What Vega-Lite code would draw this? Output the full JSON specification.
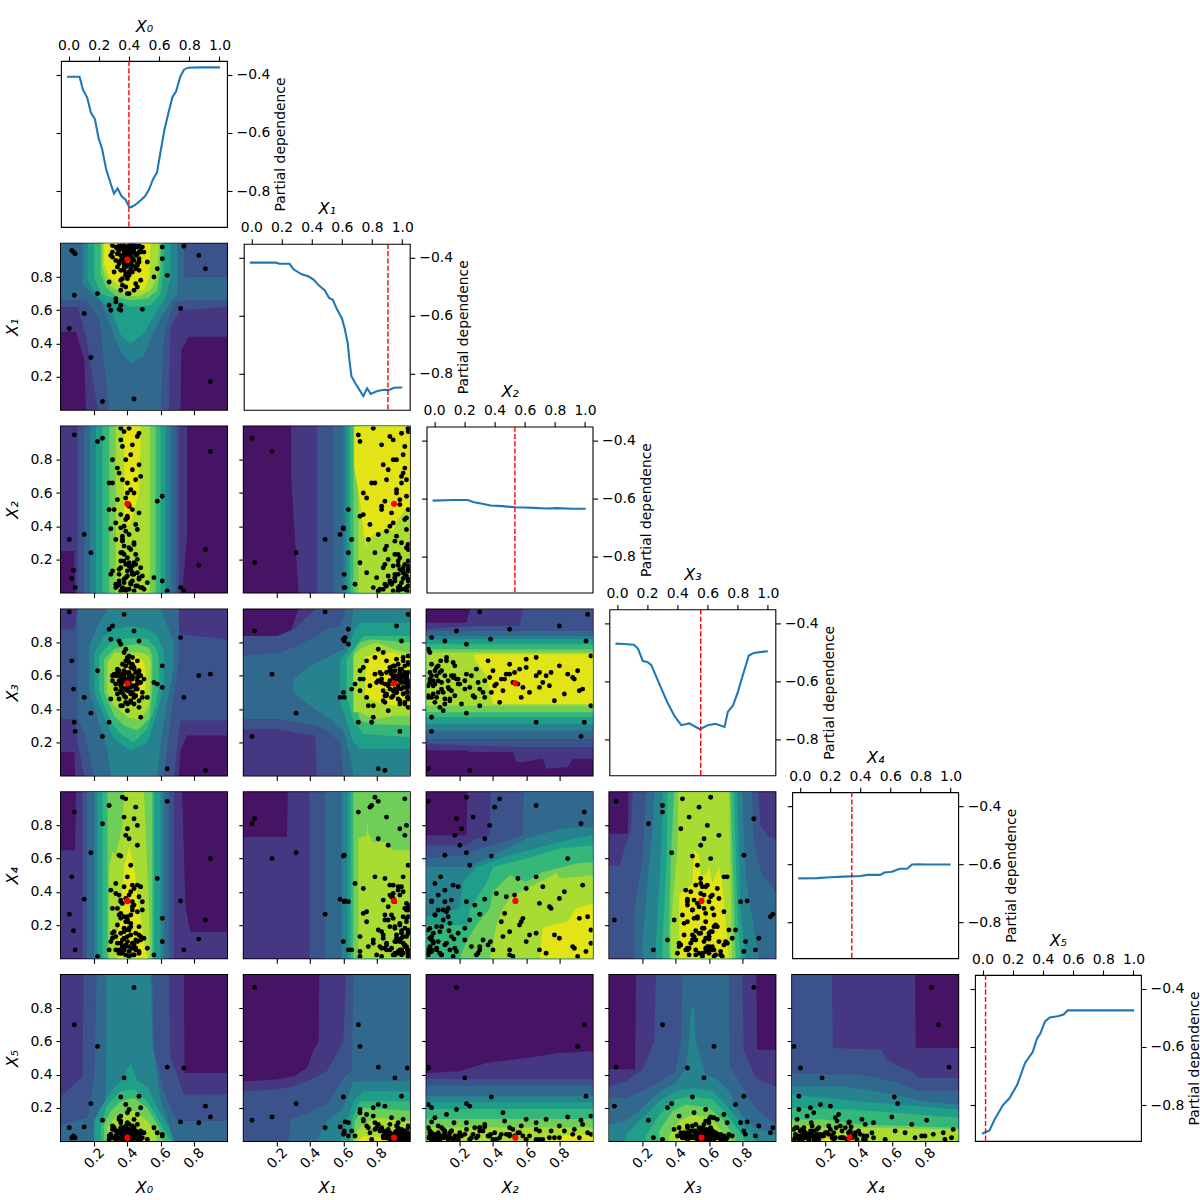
{"$schema":"https://vega.github.io/schema/vega-lite/v6.json","background":"white","padding":{"left":3,"top":17,"right":0,"bottom":0},"columns":6,"spacing":16.8,"bounds":"flush",
"config":{"view":{"stroke":"black","strokeWidth":2,"continuousWidth":166,"continuousHeight":166},"font":"DejaVu Sans","legend":{"disable":true},
"axis":{"grid":false,"domain":false,"tickColor":"black","tickSize":5,"tickWidth":1.1,"labelColor":"black","labelFont":"DejaVu Sans","labelFontSize":13.9,"labelPadding":4,"labelFlush":false,"titleColor":"black","titleFont":"DejaVu Sans","titleFontSize":16,"titleFontWeight":"normal","titleFontStyle":"italic"},
"axisLeft":{"titlePadding":9},"axisBottom":{"titlePadding":9},"axisRight":{"titleFontSize":13.9},
"area":{"orient":"vertical","opacity":1},"line":{"color":"#1f77b4","strokeWidth":2.08},"rule":{"color":"red","strokeWidth":1.4,"strokeDash":[5.1,2.2]},"circle":{"color":"black","size":24,"opacity":1},
"range":{"ordinal":["#471365","#453781","#3b528b","#31688e","#26828e","#1f9e89","#35b779","#6ece58","#a9dc33","#e2e418"]}},
"datasets":{
"best":[{"x0":0.4,"x1":0.905,"x2":0.535,"x3":0.555,"x4":0.345,"x5":0.02}],
"pts":[
{"x0":0.44,"x1":0.065,"x2":0.18,"x3":0.87,"x4":0.84,"x5":0.925},{"x0":0.08,"x1":0.69,"x2":0.95,"x3":0.32,"x4":0.88,"x5":0.7},{"x0":0.22,"x1":0.7,"x2":0.91,"x3":0.63,"x4":0.01,"x5":0.57},{"x0":0.64,"x1":0.81,"x2":0.01,"x3":0.04,"x4":0.945,"x5":0.445},{"x0":0.74,"x1":0.985,"x2":0.01,"x3":0.47,"x4":0.05,"x5":0.44},{"x0":0.38,"x1":0.91,"x2":0.23,"x3":0.57,"x4":0.18,"x5":0.38},{"x0":0.47,"x1":0.95,"x2":0.96,"x3":0.81,"x4":0.04,"x5":0.27},{"x0":0.36,"x1":0.6,"x2":0.39,"x3":0.5,"x4":0.615,"x5":0.265},{"x0":0.18,"x1":0.315,"x2":0.24,"x3":0.375,"x4":0.635,"x5":0.225},{"x0":0.87,"x1":0.85,"x2":0.26,"x3":0.03,"x4":0.23,"x5":0.21},{"x0":0.9,"x1":0.17,"x2":0.85,"x3":0.61,"x4":0.6,"x5":0.145},{"x0":0.25,"x1":0.05,"x2":0.93,"x3":0.235,"x4":0.81,"x5":0.125},{"x0":0.05,"x1":0.49,"x2":0.32,"x3":0.985,"x4":0.265,"x5":0.08},{"x0":0.14,"x1":0.58,"x2":0.35,"x3":0.47,"x4":0.355,"x5":0.085},{"x0":0.065,"x1":0.96,"x2":0.085,"x3":0.69,"x4":0.49,"x5":0.02},{"x0":0.075,"x1":0.95,"x2":0.135,"x3":0.52,"x4":0.165,"x5":0.03},{"x0":0.085,"x1":0.94,"x2":0.03,"x3":0.265,"x4":0.05,"x5":0.02},{"x0":0.72,"x1":0.61,"x2":0.03,"x3":0.83,"x4":0.345,"x5":0.115},{"x0":0.83,"x1":0.93,"x2":0.165,"x3":0.6,"x4":0.115,"x5":0.11},
{"x0":0.58,"x1":0.85,"x2":0.55,"x3":0.55,"x4":0.48,"x5":0.05},{"x0":0.61,"x1":0.98,"x2":0.58,"x3":0.53,"x4":0.24,"x5":0.03},{"x0":0.61,"x1":0.91,"x2":0.07,"x3":0.66,"x4":0.1,"x5":0.04},{"x0":0.56,"x1":0.8,"x2":0.09,"x3":0.56,"x4":0.02,"x5":0.08},
{"x0":0.29,"x1":0.63,"x2":0.5,"x3":0.88,"x4":0.05,"x5":0.03},{"x0":0.3,"x1":0.6,"x2":0.385,"x3":0.82,"x4":0.1,"x5":0.04},{"x0":0.36,"x1":0.63,"x2":0.24,"x3":0.79,"x4":0.34,"x5":0.11},{"x0":0.35,"x1":0.605,"x2":0.11,"x3":0.81,"x4":0.62,"x5":0.06},{"x0":0.49,"x1":0.605,"x2":0.03,"x3":0.47,"x4":0.34,"x5":0.05},{"x0":0.33,"x1":0.65,"x2":0.32,"x3":0.52,"x4":0.05,"x5":0.06},{"x0":0.33,"x1":0.67,"x2":0.05,"x3":0.55,"x4":0.45,"x5":0.03},{"x0":0.29,"x1":0.77,"x2":0.66,"x3":0.32,"x4":0.92,"x5":0.01},{"x0":0.31,"x1":0.92,"x2":0.8,"x3":0.9,"x4":0.12,"x5":0.09},{"x0":0.34,"x1":0.97,"x2":0.75,"x3":0.62,"x4":0.3,"x5":0.06},
{"x0":0.36,"x1":0.78,"x2":0.99,"x3":0.42,"x4":0.09,"x5":0.15},{"x0":0.38,"x1":0.99,"x2":0.97,"x3":0.97,"x4":0.25,"x5":0.05},{"x0":0.41,"x1":0.99,"x2":0.99,"x3":0.72,"x4":0.17,"x5":0.04},{"x0":0.46,"x1":0.88,"x2":0.94,"x3":0.52,"x4":0.44,"x5":0.1},{"x0":0.43,"x1":0.83,"x2":0.89,"x3":0.58,"x4":0.06,"x5":0.07},{"x0":0.39,"x1":0.9,"x2":0.8,"x3":0.66,"x4":0.36,"x5":0.02},{"x0":0.47,"x1":0.84,"x2":0.77,"x3":0.45,"x4":0.14,"x5":0.02},{"x0":0.35,"x1":0.96,"x2":0.72,"x3":0.6,"x4":0.03,"x5":0.13},{"x0":0.37,"x1":0.98,"x2":0.68,"x3":0.53,"x4":0.33,"x5":0.01},{"x0":0.4,"x1":0.79,"x2":0.66,"x3":0.71,"x4":0.49,"x5":0.11},
{"x0":0.42,"x1":0.92,"x2":0.62,"x3":0.5,"x4":0.14,"x5":0.03},{"x0":0.45,"x1":0.86,"x2":0.68,"x3":0.62,"x4":0.05,"x5":0.06},{"x0":0.48,"x1":0.95,"x2":0.7,"x3":0.56,"x4":0.43,"x5":0.01},{"x0":0.39,"x1":0.74,"x2":0.57,"x3":0.47,"x4":0.22,"x5":0.09},{"x0":0.43,"x1":0.99,"x2":0.5,"x3":0.67,"x4":0.02,"x5":0.04},{"x0":0.32,"x1":0.83,"x2":0.5,"x3":0.61,"x4":0.16,"x5":0.08},{"x0":0.36,"x1":0.72,"x2":0.47,"x3":0.58,"x4":0.27,"x5":0.12},{"x0":0.39,"x1":0.97,"x2":0.44,"x3":0.44,"x4":0.96,"x5":0.02},{"x0":0.45,"x1":0.76,"x2":0.41,"x3":0.54,"x4":0.91,"x5":0.05},{"x0":0.38,"x1":0.88,"x2":0.4,"x3":0.63,"x4":0.05,"x5":0.01},
{"x0":0.46,"x1":0.98,"x2":0.38,"x3":0.59,"x4":0.8,"x5":0.03},{"x0":0.37,"x1":0.92,"x2":0.34,"x3":0.5,"x4":0.11,"x5":0.06},{"x0":0.41,"x1":0.81,"x2":0.35,"x3":0.57,"x4":0.72,"x5":0.1},{"x0":0.44,"x1":0.95,"x2":0.3,"x3":0.64,"x4":0.02,"x5":0.02},{"x0":0.38,"x1":0.86,"x2":0.28,"x3":0.48,"x4":0.85,"x5":0.04},{"x0":0.42,"x1":0.99,"x2":0.26,"x3":0.53,"x4":0.56,"x5":0.01},{"x0":0.37,"x1":0.79,"x2":0.24,"x3":0.61,"x4":0.97,"x5":0.07},{"x0":0.4,"x1":0.94,"x2":0.21,"x3":0.43,"x4":0.78,"x5":0.03},{"x0":0.46,"x1":0.87,"x2":0.2,"x3":0.55,"x4":0.68,"x5":0.05},{"x0":0.39,"x1":0.97,"x2":0.17,"x3":0.66,"x4":0.74,"x5":0.02},{"x0":0.43,"x1":0.9,"x2":0.16,"x3":0.59,"x4":0.44,"x5":0.01},{"x0":0.36,"x1":0.84,"x2":0.15,"x3":0.51,"x4":0.35,"x5":0.06},
{"x0":0.31,"x1":0.99,"x2":0.13,"x3":0.57,"x4":0.3,"x5":0.02},{"x0":0.3,"x1":0.93,"x2":0.11,"x3":0.46,"x4":0.41,"x5":0.04},{"x0":0.4,"x1":0.96,"x2":0.13,"x3":0.53,"x4":0.25,"x5":0.01},{"x0":0.47,"x1":0.91,"x2":0.09,"x3":0.63,"x4":0.19,"x5":0.03},{"x0":0.49,"x1":0.98,"x2":0.1,"x3":0.5,"x4":0.29,"x5":0.02},{"x0":0.35,"x1":0.88,"x2":0.07,"x3":0.57,"x4":0.38,"x5":0.05},{"x0":0.38,"x1":0.95,"x2":0.06,"x3":0.6,"x4":0.05,"x5":0.01},{"x0":0.42,"x1":0.85,"x2":0.05,"x3":0.44,"x4":0.26,"x5":0.02},{"x0":0.45,"x1":0.99,"x2":0.04,"x3":0.54,"x4":0.15,"x5":0.04},{"x0":0.37,"x1":0.93,"x2":0.03,"x3":0.67,"x4":0.04,"x5":0.01},{"x0":0.41,"x1":0.97,"x2":0.02,"x3":0.56,"x4":0.18,"x5":0.03},{"x0":0.44,"x1":0.9,"x2":0.01,"x3":0.48,"x4":0.02,"x5":0.02},{"x0":0.39,"x1":0.82,"x2":0.02,"x3":0.62,"x4":0.07,"x5":0.06},
{"x0":0.5,"x1":0.95,"x2":0.02,"x3":0.58,"x4":0.12,"x5":0.05},{"x0":0.52,"x1":0.89,"x2":0.06,"x3":0.47,"x4":0.06,"x5":0.01},{"x0":0.47,"x1":0.99,"x2":0.08,"x3":0.41,"x4":0.03,"x5":0.03},{"x0":0.43,"x1":0.96,"x2":0.12,"x3":0.71,"x4":0.09,"x5":0.02},{"x0":0.4,"x1":0.87,"x2":0.1,"x3":0.39,"x4":0.23,"x5":0.07},{"x0":0.36,"x1":0.99,"x2":0.19,"x3":0.55,"x4":0.15,"x5":0.01},{"x0":0.45,"x1":0.93,"x2":0.23,"x3":0.52,"x4":0.11,"x5":0.04},{"x0":0.41,"x1":0.98,"x2":0.27,"x3":0.6,"x4":0.07,"x5":0.02},{"x0":0.37,"x1":0.91,"x2":0.31,"x3":0.56,"x4":0.03,"x5":0.03},{"x0":0.48,"x1":0.96,"x2":0.15,"x3":0.6,"x4":0.13,"x5":0.06},{"x0":0.34,"x1":0.86,"x2":0.04,"x3":0.49,"x4":0.09,"x5":0.02},{"x0":0.38,"x1":0.99,"x2":0.08,"x3":0.62,"x4":0.16,"x5":0.01},{"x0":0.42,"x1":0.94,"x2":0.14,"x3":0.45,"x4":0.21,"x5":0.05},
{"x0":0.33,"x1":0.9,"x2":0.42,"x3":0.55,"x4":0.39,"x5":0.01},{"x0":0.44,"x1":0.72,"x2":0.6,"x3":0.65,"x4":0.42,"x5":0.13},{"x0":0.4,"x1":0.7,"x2":0.46,"x3":0.51,"x4":0.13,"x5":0.17},{"x0":0.37,"x1":0.75,"x2":0.32,"x3":0.42,"x4":0.07,"x5":0.08},{"x0":0.46,"x1":0.74,"x2":0.12,"x3":0.69,"x4":0.28,"x5":0.16},{"x0":0.41,"x1":0.7,"x2":0.18,"x3":0.58,"x4":0.04,"x5":0.19},{"x0":0.48,"x1":0.78,"x2":0.03,"x3":0.35,"x4":0.11,"x5":0.2},{"x0":0.39,"x1":0.81,"x2":0.01,"x3":0.76,"x4":0.17,"x5":0.22},{"x0":0.35,"x1":0.89,"x2":0.05,"x3":0.63,"x4":0.26,"x5":0.14},{"x0":0.43,"x1":0.99,"x2":0.07,"x3":0.5,"x4":0.29,"x5":0.09},{"x0":0.31,"x1":0.95,"x2":0.66,"x3":0.6,"x4":0.15,"x5":0.07},{"x0":0.41,"x1":0.94,"x2":0.53,"x3":0.62,"x4":0.38,"x5":0.03},{"x0":0.4,"x1":0.98,"x2":0.45,"x3":0.58,"x4":0.22,"x5":0.04},
{"x0":0.36,"x1":0.93,"x2":0.01,"x3":0.54,"x4":0.03,"x5":0.08},{"x0":0.45,"x1":0.85,"x2":0.17,"x3":0.48,"x4":0.06,"x5":0.03},{"x0":0.39,"x1":0.91,"x2":0.09,"x3":0.52,"x4":0.02,"x5":0.02},{"x0":0.33,"x1":0.98,"x2":0.03,"x3":0.6,"x4":0.13,"x5":0.01},{"x0":0.42,"x1":0.88,"x2":0.06,"x3":0.65,"x4":0.19,"x5":0.04},{"x0":0.46,"x1":0.94,"x2":0.04,"x3":0.57,"x4":0.1,"x5":0.01},{"x0":0.44,"x1":0.97,"x2":0.11,"x3":0.43,"x4":0.08,"x5":0.05},{"x0":0.35,"x1":0.99,"x2":0.14,"x3":0.46,"x4":0.05,"x5":0.02},{"x0":0.38,"x1":0.84,"x2":0.02,"x3":0.74,"x4":0.12,"x5":0.03},{"x0":0.41,"x1":0.99,"x2":0.16,"x3":0.68,"x4":0.01,"x5":0.01},
{"x0":0.34,"x1":0.94,"x2":0.56,"x3":0.64,"x4":0.2,"x5":0.05},{"x0":0.43,"x1":0.87,"x2":0.74,"x3":0.54,"x4":0.31,"x5":0.02},{"x0":0.37,"x1":0.97,"x2":0.88,"x3":0.59,"x4":0.07,"x5":0.04},{"x0":0.42,"x1":0.96,"x2":0.83,"x3":0.49,"x4":0.4,"x5":0.06},{"x0":0.4,"x1":0.92,"x2":0.6,"x3":0.7,"x4":0.1,"x5":0.01},{"x0":0.44,"x1":0.99,"x2":0.29,"x3":0.47,"x4":0.32,"x5":0.08},{"x0":0.36,"x1":0.9,"x2":0.92,"x3":0.51,"x4":0.24,"x5":0.02},{"x0":0.39,"x1":0.86,"x2":0.37,"x3":0.69,"x4":0.08,"x5":0.03},{"x0":0.47,"x1":0.89,"x2":0.48,"x3":0.61,"x4":0.37,"x5":0.04},{"x0":0.41,"x1":0.83,"x2":0.52,"x3":0.56,"x4":0.01,"x5":0.07},{"x0":0.38,"x1":0.93,"x2":0.19,"x3":0.58,"x4":0.43,"x5":0.03},{"x0":0.43,"x1":0.91,"x2":0.11,"x3":0.6,"x4":0.34,"x5":0.05}],
"d0":[{"x":-0.01,"y":-0.406},{"x":0.073,"y":-0.406},{"x":0.095,"y":-0.45},{"x":0.124,"y":-0.479},{"x":0.148,"y":-0.53},{"x":0.175,"y":-0.553},{"x":0.199,"y":-0.618},{"x":0.223,"y":-0.656},{"x":0.25,"y":-0.727},{"x":0.279,"y":-0.774},{"x":0.301,"y":-0.809},{"x":0.325,"y":-0.791},{"x":0.352,"y":-0.818},{"x":0.378,"y":-0.83},{"x":0.4,"y":-0.853},{"x":0.414,"y":-0.856},{"x":0.442,"y":-0.848},{"x":0.476,"y":-0.833},{"x":0.507,"y":-0.818},{"x":0.533,"y":-0.795},{"x":0.56,"y":-0.759},{"x":0.586,"y":-0.736},{"x":0.608,"y":-0.67},{"x":0.635,"y":-0.59},{"x":0.664,"y":-0.527},{"x":0.688,"y":-0.477},{"x":0.712,"y":-0.457},{"x":0.741,"y":-0.405},{"x":0.765,"y":-0.382},{"x":0.79,"y":-0.375},{"x":0.874,"y":-0.374},{"x":1.004,"y":-0.374}],
"d1":[{"x":-0.01,"y":-0.417},{"x":0.163,"y":-0.417},{"x":0.185,"y":-0.421},{"x":0.253,"y":-0.421},{"x":0.28,"y":-0.44},{"x":0.333,"y":-0.457},{"x":0.377,"y":-0.464},{"x":0.412,"y":-0.475},{"x":0.449,"y":-0.496},{"x":0.487,"y":-0.513},{"x":0.515,"y":-0.539},{"x":0.54,"y":-0.545},{"x":0.566,"y":-0.576},{"x":0.601,"y":-0.61},{"x":0.619,"y":-0.645},{"x":0.639,"y":-0.696},{"x":0.65,"y":-0.753},{"x":0.663,"y":-0.808},{"x":0.692,"y":-0.835},{"x":0.742,"y":-0.877},{"x":0.767,"y":-0.85},{"x":0.791,"y":-0.869},{"x":0.835,"y":-0.859},{"x":0.879,"y":-0.855},{"x":0.912,"y":-0.856},{"x":0.945,"y":-0.848},{"x":1,"y":-0.847}],
"d2":[{"x":-0.01,"y":-0.607},{"x":0.13,"y":-0.605},{"x":0.223,"y":-0.605},{"x":0.263,"y":-0.613},{"x":0.319,"y":-0.618},{"x":0.374,"y":-0.624},{"x":0.451,"y":-0.626},{"x":0.535,"y":-0.63},{"x":0.595,"y":-0.631},{"x":0.662,"y":-0.632},{"x":0.739,"y":-0.634},{"x":0.816,"y":-0.633},{"x":0.916,"y":-0.635},{"x":1.004,"y":-0.635}],
"d3":[{"x":-0.01,"y":-0.47},{"x":0.046,"y":-0.471},{"x":0.113,"y":-0.474},{"x":0.139,"y":-0.487},{"x":0.172,"y":-0.53},{"x":0.201,"y":-0.533},{"x":0.227,"y":-0.543},{"x":0.28,"y":-0.608},{"x":0.333,"y":-0.671},{"x":0.382,"y":-0.72},{"x":0.426,"y":-0.751},{"x":0.479,"y":-0.745},{"x":0.55,"y":-0.765},{"x":0.603,"y":-0.751},{"x":0.653,"y":-0.746},{"x":0.713,"y":-0.757},{"x":0.735,"y":-0.705},{"x":0.77,"y":-0.682},{"x":0.801,"y":-0.637},{"x":0.837,"y":-0.574},{"x":0.874,"y":-0.511},{"x":0.907,"y":-0.502},{"x":1,"y":-0.496}],
"d4":[{"x":-0.01,"y":-0.649},{"x":0.115,"y":-0.648},{"x":0.203,"y":-0.645},{"x":0.291,"y":-0.643},{"x":0.402,"y":-0.641},{"x":0.45,"y":-0.637},{"x":0.534,"y":-0.637},{"x":0.561,"y":-0.629},{"x":0.611,"y":-0.626},{"x":0.662,"y":-0.616},{"x":0.711,"y":-0.616},{"x":0.744,"y":-0.601},{"x":0.777,"y":-0.6},{"x":0.843,"y":-0.601},{"x":1,"y":-0.601}],
"d5":[{"x":-0.004,"y":-0.899},{"x":0.046,"y":-0.888},{"x":0.079,"y":-0.851},{"x":0.134,"y":-0.801},{"x":0.178,"y":-0.777},{"x":0.229,"y":-0.731},{"x":0.282,"y":-0.655},{"x":0.333,"y":-0.617},{"x":0.361,"y":-0.571},{"x":0.383,"y":-0.554},{"x":0.414,"y":-0.512},{"x":0.445,"y":-0.498},{"x":0.498,"y":-0.494},{"x":0.537,"y":-0.488},{"x":0.564,"y":-0.474},{"x":1.004,"y":-0.474}],
"c10":[{"v":0,"x":0,"y":0,"y2":1},{"v":0,"x":1,"y":0,"y2":1},{"v":1,"x":0,"y":0.47,"y2":1},{"v":1,"x":0.09,"y":0.47,"y2":1},{"v":1,"x":0.14,"y":0.3,"y2":1},{"v":1,"x":0.15,"y":0,"y2":1},{"v":1,"x":0.72,"y":0,"y2":1},{"v":1,"x":0.725,"y":0.36,"y2":1},{"v":1,"x":0.77,"y":0.44,"y2":1},{"v":1,"x":1,"y":0.44,"y2":1},
{"v":2,"x":0,"y":0.62,"y2":1},{"v":2,"x":0.1,"y":0.62,"y2":1},{"v":2,"x":0.15,"y":0.45,"y2":1},{"v":2,"x":0.22,"y":0,"y2":1},{"v":2,"x":0.65,"y":0,"y2":1},{"v":2,"x":0.66,"y":0.5,"y2":1},{"v":2,"x":0.72,"y":0.6,"y2":1},{"v":2,"x":1,"y":0.62,"y2":1},
{"v":3,"x":0,"y":0.66,"y2":1},{"v":3,"x":0.15,"y":0.66,"y2":1},{"v":3,"x":0.23,"y":0.55,"y2":1},{"v":3,"x":0.29,"y":0,"y2":1},{"v":3,"x":0.6,"y":0,"y2":1},{"v":3,"x":0.62,"y":0.45,"y2":1},{"v":3,"x":0.68,"y":0.65,"y2":1},{"v":3,"x":0.74,"y":0.66,"y2":1},{"v":3,"x":0.745,"y":0.66,"y2":0.8},{"v":3,"x":1,"y":0.66,"y2":0.8},
{"v":4,"x":0.13,"y":0.75,"y2":1},{"v":4,"x":0.24,"y":0.66,"y2":1},{"v":4,"x":0.3,"y":0.5,"y2":1},{"v":4,"x":0.36,"y":0.35,"y2":1},{"v":4,"x":0.42,"y":0.28,"y2":1},{"v":4,"x":0.5,"y":0.33,"y2":1},{"v":4,"x":0.55,"y":0.45,"y2":1},{"v":4,"x":0.6,"y":0.55,"y2":1},{"v":4,"x":0.66,"y":0.65,"y2":1},{"v":4,"x":0.7,"y":0.7,"y2":1},
{"v":5,"x":0.16,"y":0.78,"y2":1},{"v":5,"x":0.22,"y":0.68,"y2":1},{"v":5,"x":0.3,"y":0.6,"y2":1},{"v":5,"x":0.36,"y":0.45,"y2":1},{"v":5,"x":0.42,"y":0.4,"y2":1},{"v":5,"x":0.5,"y":0.46,"y2":1},{"v":5,"x":0.58,"y":0.6,"y2":1},{"v":5,"x":0.63,"y":0.68,"y2":1},{"v":5,"x":0.66,"y":0.8,"y2":1},
{"v":6,"x":0.2,"y":0.8,"y2":1},{"v":6,"x":0.24,"y":0.7,"y2":1},{"v":6,"x":0.34,"y":0.66,"y2":1},{"v":6,"x":0.42,"y":0.62,"y2":1},{"v":6,"x":0.54,"y":0.63,"y2":1},{"v":6,"x":0.6,"y":0.7,"y2":1},{"v":6,"x":0.62,"y":0.85,"y2":1},
{"v":7,"x":0.24,"y":0.82,"y2":1},{"v":7,"x":0.27,"y":0.74,"y2":1},{"v":7,"x":0.34,"y":0.68,"y2":1},{"v":7,"x":0.42,"y":0.66,"y2":1},{"v":7,"x":0.52,"y":0.67,"y2":1},{"v":7,"x":0.58,"y":0.72,"y2":1},{"v":7,"x":0.6,"y":0.85,"y2":1},
{"v":8,"x":0.25,"y":0.86,"y2":1},{"v":8,"x":0.28,"y":0.76,"y2":1},{"v":8,"x":0.36,"y":0.7,"y2":1},{"v":8,"x":0.46,"y":0.68,"y2":1},{"v":8,"x":0.54,"y":0.72,"y2":1},{"v":8,"x":0.58,"y":0.8,"y2":1},{"v":8,"x":0.59,"y":1,"y2":1},
{"v":9,"x":0.26,"y":0.88,"y2":1},{"v":9,"x":0.29,"y":0.8,"y2":1},{"v":9,"x":0.38,"y":0.72,"y2":1},{"v":9,"x":0.5,"y":0.72,"y2":1},{"v":9,"x":0.53,"y":0.8,"y2":1},{"v":9,"x":0.54,"y":1,"y2":1}],
"c20":[{"v":0,"x":0,"y":0,"y2":1},{"v":0,"x":1,"y":0,"y2":1},{"v":1,"x":0,"y":0.25,"y2":1},{"v":1,"x":0.08,"y":0.25,"y2":1},{"v":1,"x":0.085,"y":0,"y2":1},{"v":1,"x":0.73,"y":0,"y2":1},{"v":1,"x":0.76,"y":0.35,"y2":1},
{"v":2,"x":0.1,"y":0,"y2":1},{"v":2,"x":0.71,"y":0,"y2":1},{"v":3,"x":0.14,"y":0,"y2":1},{"v":3,"x":0.69,"y":0,"y2":1},{"v":4,"x":0.175,"y":0,"y2":1},{"v":4,"x":0.66,"y":0,"y2":1},{"v":5,"x":0.21,"y":0,"y2":1},{"v":5,"x":0.63,"y":0,"y2":1},{"v":6,"x":0.25,"y":0,"y2":1},{"v":6,"x":0.6,"y":0,"y2":1},{"v":7,"x":0.29,"y":0,"y2":1},{"v":7,"x":0.57,"y":0,"y2":1},{"v":8,"x":0.33,"y":0,"y2":1},{"v":8,"x":0.535,"y":0,"y2":1},
{"v":9,"x":0.38,"y":0.45,"y2":1},{"v":9,"x":0.4,"y":0.4,"y2":1},{"v":9,"x":0.42,"y":0.42,"y2":1},{"v":9,"x":0.47,"y":0.6,"y2":1},{"v":9,"x":0.48,"y":0.9,"y2":1}],
"c21":[{"v":0,"x":0,"y":0,"y2":1},{"v":0,"x":1,"y":0,"y2":1},{"v":1,"x":0.285,"y":0.7,"y2":1},{"v":1,"x":0.31,"y":0.3,"y2":1},{"v":1,"x":0.33,"y":0,"y2":1},{"v":1,"x":1,"y":0,"y2":1},
{"v":2,"x":0.44,"y":0,"y2":1},{"v":2,"x":1,"y":0,"y2":1},{"v":3,"x":0.54,"y":0,"y2":1},{"v":3,"x":1,"y":0,"y2":1},{"v":4,"x":0.6,"y":0,"y2":1},{"v":4,"x":1,"y":0,"y2":1},{"v":5,"x":0.62,"y":0,"y2":1},{"v":5,"x":1,"y":0,"y2":1},{"v":6,"x":0.64,"y":0,"y2":1},{"v":6,"x":1,"y":0,"y2":1},{"v":7,"x":0.66,"y":0,"y2":1},{"v":7,"x":1,"y":0,"y2":1},{"v":8,"x":0.69,"y":0,"y2":1},{"v":8,"x":1,"y":0,"y2":1},
{"v":9,"x":0.665,"y":0.75,"y2":1},{"v":9,"x":0.7,"y":0.55,"y2":1},{"v":9,"x":0.72,"y":0.38,"y2":1},{"v":9,"x":0.735,"y":0.27,"y2":1},{"v":9,"x":0.75,"y":0.33,"y2":1},{"v":9,"x":0.85,"y":0.38,"y2":1},{"v":9,"x":0.9,"y":0.37,"y2":1},{"v":9,"x":0.93,"y":0.44,"y2":1},{"v":9,"x":0.97,"y":0.5,"y2":1},{"v":9,"x":1,"y":0.5,"y2":1}],
"c30":[{"v":0,"x":0,"y":0,"y2":1},{"v":0,"x":1,"y":0,"y2":1},{"v":1,"x":0,"y":0.14,"y2":1},{"v":1,"x":0.08,"y":0.14,"y2":1},{"v":1,"x":0.085,"y":0,"y2":1},{"v":1,"x":0.71,"y":0,"y2":1},{"v":1,"x":0.72,"y":0.15,"y2":1},{"v":1,"x":0.76,"y":0.24,"y2":1},{"v":1,"x":1,"y":0.24,"y2":1},
{"v":2,"x":0,"y":0.34,"y2":0.88},{"v":2,"x":0.08,"y":0.34,"y2":0.88},{"v":2,"x":0.1,"y":0.2,"y2":1},{"v":2,"x":0.14,"y":0,"y2":1},{"v":2,"x":0.68,"y":0,"y2":1},{"v":2,"x":0.72,"y":0.33,"y2":0.85},{"v":2,"x":1,"y":0.33,"y2":0.82},
{"v":3,"x":0.1,"y":0.35,"y2":1},{"v":3,"x":0.14,"y":0.25,"y2":1},{"v":3,"x":0.2,"y":0,"y2":1},{"v":3,"x":0.62,"y":0,"y2":1},{"v":3,"x":0.67,"y":0.4,"y2":1},{"v":3,"x":0.71,"y":0.7,"y2":1},
{"v":4,"x":0.17,"y":0.5,"y2":0.78},{"v":4,"x":0.22,"y":0.35,"y2":0.9},{"v":4,"x":0.28,"y":0.15,"y2":1},{"v":4,"x":0.3,"y":0,"y2":1},{"v":4,"x":0.58,"y":0,"y2":1},{"v":4,"x":0.6,"y":0.2,"y2":1},{"v":4,"x":0.64,"y":0.45,"y2":0.9},{"v":4,"x":0.68,"y":0.65,"y2":0.8},
{"v":5,"x":0.2,"y":0.5,"y2":0.74},{"v":5,"x":0.26,"y":0.35,"y2":0.84},{"v":5,"x":0.32,"y":0.22,"y2":0.88},{"v":5,"x":0.42,"y":0.15,"y2":0.9},{"v":5,"x":0.52,"y":0.2,"y2":0.88},{"v":5,"x":0.58,"y":0.38,"y2":0.84},{"v":5,"x":0.62,"y":0.55,"y2":0.75},
{"v":6,"x":0.23,"y":0.5,"y2":0.72},{"v":6,"x":0.3,"y":0.32,"y2":0.8},{"v":6,"x":0.36,"y":0.25,"y2":0.82},{"v":6,"x":0.44,"y":0.2,"y2":0.83},{"v":6,"x":0.52,"y":0.28,"y2":0.82},{"v":6,"x":0.57,"y":0.42,"y2":0.77},{"v":6,"x":0.59,"y":0.55,"y2":0.7},
{"v":7,"x":0.26,"y":0.5,"y2":0.7},{"v":7,"x":0.32,"y":0.36,"y2":0.76},{"v":7,"x":0.38,"y":0.3,"y2":0.78},{"v":7,"x":0.46,"y":0.27,"y2":0.79},{"v":7,"x":0.53,"y":0.34,"y2":0.77},{"v":7,"x":0.55,"y":0.5,"y2":0.72},
{"v":8,"x":0.28,"y":0.5,"y2":0.68},{"v":8,"x":0.32,"y":0.42,"y2":0.74},{"v":8,"x":0.4,"y":0.35,"y2":0.74},{"v":8,"x":0.48,"y":0.33,"y2":0.74},{"v":8,"x":0.53,"y":0.42,"y2":0.72},{"v":8,"x":0.54,"y":0.55,"y2":0.68},
{"v":9,"x":0.38,"y":0.5,"y2":0.62},{"v":9,"x":0.42,"y":0.45,"y2":0.7},{"v":9,"x":0.46,"y":0.45,"y2":0.72},{"v":9,"x":0.5,"y":0.48,"y2":0.68},{"v":9,"x":0.51,"y":0.55,"y2":0.6}],
"c31":[{"v":0,"x":0,"y":0,"y2":1},{"v":0,"x":1,"y":0,"y2":1},{"v":1,"x":0,"y":0,"y2":0.84},{"v":1,"x":0.22,"y":0,"y2":0.84},{"v":1,"x":0.28,"y":0,"y2":0.86},{"v":1,"x":0.31,"y":0,"y2":0.95},{"v":1,"x":0.33,"y":0,"y2":1},{"v":1,"x":1,"y":0,"y2":1},
{"v":2,"x":0,"y":0.28,"y2":0.84},{"v":2,"x":0.2,"y":0.28,"y2":0.84},{"v":2,"x":0.3,"y":0.26,"y2":0.88},{"v":2,"x":0.43,"y":0.24,"y2":1},{"v":2,"x":0.44,"y":0,"y2":1},{"v":2,"x":1,"y":0,"y2":1},
{"v":3,"x":0,"y":0.34,"y2":0.72},{"v":3,"x":0.22,"y":0.34,"y2":0.74},{"v":3,"x":0.32,"y":0.32,"y2":0.78},{"v":3,"x":0.44,"y":0.3,"y2":0.84},{"v":3,"x":0.5,"y":0.27,"y2":0.88},{"v":3,"x":0.58,"y":0.2,"y2":0.9},{"v":3,"x":0.6,"y":0,"y2":0.95},{"v":3,"x":0.61,"y":0,"y2":1},{"v":3,"x":1,"y":0,"y2":1},
{"v":4,"x":0.3,"y":0.5,"y2":0.58},{"v":4,"x":0.4,"y":0.42,"y2":0.66},{"v":4,"x":0.52,"y":0.34,"y2":0.72},{"v":4,"x":0.6,"y":0.27,"y2":0.76},{"v":4,"x":0.64,"y":0.12,"y2":0.84},{"v":4,"x":0.66,"y":0,"y2":1},{"v":4,"x":1,"y":0,"y2":1},
{"v":5,"x":0.58,"y":0.44,"y2":0.7},{"v":5,"x":0.62,"y":0.32,"y2":0.74},{"v":5,"x":0.66,"y":0.2,"y2":0.86},{"v":5,"x":0.7,"y":0.16,"y2":0.92},{"v":5,"x":1,"y":0.16,"y2":0.92},
{"v":6,"x":0.62,"y":0.48,"y2":0.7},{"v":6,"x":0.66,"y":0.33,"y2":0.76},{"v":6,"x":0.72,"y":0.25,"y2":0.84},{"v":6,"x":1,"y":0.23,"y2":0.84},
{"v":7,"x":0.66,"y":0.5,"y2":0.74},{"v":7,"x":0.7,"y":0.33,"y2":0.8},{"v":7,"x":0.76,"y":0.31,"y2":0.82},{"v":7,"x":1,"y":0.3,"y2":0.8},
{"v":8,"x":0.66,"y":0.38,"y2":0.72},{"v":8,"x":0.7,"y":0.38,"y2":0.76},{"v":8,"x":0.74,"y":0.36,"y2":0.78},{"v":8,"x":0.8,"y":0.34,"y2":0.8},{"v":8,"x":0.9,"y":0.36,"y2":0.76},{"v":8,"x":1,"y":0.36,"y2":0.74},
{"v":9,"x":0.73,"y":0.48,"y2":0.72},{"v":9,"x":0.76,"y":0.46,"y2":0.72},{"v":9,"x":0.8,"y":0.44,"y2":0.74},{"v":9,"x":0.9,"y":0.42,"y2":0.74},{"v":9,"x":1,"y":0.42,"y2":0.7}],
"c32":[{"v":0,"x":0,"y":0,"y2":1},{"v":0,"x":1,"y":0,"y2":1},{"v":1,"x":0,"y":0.15,"y2":0.92},{"v":1,"x":0.24,"y":0.15,"y2":0.92},{"v":1,"x":0.26,"y":0.14,"y2":1},{"v":1,"x":0.52,"y":0.14,"y2":1},{"v":1,"x":0.54,"y":0.08,"y2":1},{"v":1,"x":0.58,"y":0.08,"y2":1},{"v":1,"x":0.7,"y":0.1,"y2":1},{"v":1,"x":0.72,"y":0.04,"y2":1},{"v":1,"x":0.85,"y":0.05,"y2":1},{"v":1,"x":0.88,"y":0.1,"y2":1},{"v":1,"x":1,"y":0.1,"y2":1},
{"v":2,"x":0,"y":0.19,"y2":0.88},{"v":2,"x":0.25,"y":0.18,"y2":0.9},{"v":2,"x":0.56,"y":0.17,"y2":0.9},{"v":2,"x":0.58,"y":0.17,"y2":1},{"v":2,"x":1,"y":0.17,"y2":1},
{"v":3,"x":0,"y":0.22,"y2":0.87},{"v":3,"x":1,"y":0.22,"y2":0.87},{"v":4,"x":0,"y":0.27,"y2":0.84},{"v":4,"x":1,"y":0.27,"y2":0.84},{"v":5,"x":0,"y":0.31,"y2":0.82},{"v":5,"x":1,"y":0.31,"y2":0.82},{"v":6,"x":0,"y":0.35,"y2":0.79},{"v":6,"x":1,"y":0.35,"y2":0.79},{"v":7,"x":0,"y":0.38,"y2":0.76},{"v":7,"x":1,"y":0.38,"y2":0.76},{"v":8,"x":0,"y":0.42,"y2":0.74},{"v":8,"x":1,"y":0.42,"y2":0.74},
{"v":9,"x":0.29,"y":0.7,"y2":0.73},{"v":9,"x":0.36,"y":0.6,"y2":0.73},{"v":9,"x":0.4,"y":0.43,"y2":0.73},{"v":9,"x":1,"y":0.43,"y2":0.73}],
"c40":[{"v":0,"x":0,"y":0,"y2":1},{"v":0,"x":1,"y":0,"y2":1},{"v":1,"x":0,"y":0,"y2":0.65},{"v":1,"x":0.085,"y":0,"y2":0.65},{"v":1,"x":0.09,"y":0,"y2":1},{"v":1,"x":0.73,"y":0,"y2":1},{"v":1,"x":0.75,"y":0,"y2":0.3},{"v":1,"x":0.78,"y":0,"y2":0.16},{"v":1,"x":1,"y":0,"y2":0.16},
{"v":2,"x":0.13,"y":0,"y2":1},{"v":2,"x":0.68,"y":0,"y2":1},{"v":3,"x":0.155,"y":0,"y2":1},{"v":3,"x":0.65,"y":0,"y2":1},{"v":4,"x":0.2,"y":0,"y2":1},{"v":4,"x":0.62,"y":0,"y2":1},{"v":5,"x":0.22,"y":0,"y2":1},{"v":5,"x":0.6,"y":0,"y2":1},{"v":6,"x":0.25,"y":0,"y2":1},{"v":6,"x":0.56,"y":0,"y2":1},{"v":7,"x":0.28,"y":0,"y2":1},{"v":7,"x":0.55,"y":0,"y2":1},
{"v":8,"x":0.29,"y":0,"y2":0.55},{"v":8,"x":0.31,"y":0,"y2":0.64},{"v":8,"x":0.33,"y":0,"y2":0.62},{"v":8,"x":0.37,"y":0,"y2":0.8},{"v":8,"x":0.38,"y":0,"y2":1},{"v":8,"x":0.5,"y":0,"y2":1},{"v":8,"x":0.53,"y":0,"y2":0.3},{"v":8,"x":0.535,"y":0,"y2":0},
{"v":9,"x":0.34,"y":0,"y2":0.15},{"v":9,"x":0.36,"y":0,"y2":0.3},{"v":9,"x":0.38,"y":0,"y2":0.55},{"v":9,"x":0.41,"y":0,"y2":0.67},{"v":9,"x":0.44,"y":0,"y2":0.55},{"v":9,"x":0.47,"y":0,"y2":0.3},{"v":9,"x":0.5,"y":0,"y2":0.1},{"v":9,"x":0.52,"y":0,"y2":0}],
"c41":[{"v":0,"x":0,"y":0,"y2":1},{"v":0,"x":1,"y":0,"y2":1},{"v":1,"x":0,"y":0,"y2":0.73},{"v":1,"x":0.26,"y":0,"y2":0.73},{"v":1,"x":0.265,"y":0,"y2":1},{"v":1,"x":1,"y":0,"y2":1},{"v":2,"x":0.395,"y":0,"y2":1},{"v":2,"x":1,"y":0,"y2":1},{"v":3,"x":0.49,"y":0,"y2":1},{"v":3,"x":1,"y":0,"y2":1},{"v":4,"x":0.59,"y":0,"y2":1},{"v":4,"x":1,"y":0,"y2":1},{"v":5,"x":0.625,"y":0,"y2":1},{"v":5,"x":1,"y":0,"y2":1},{"v":6,"x":0.645,"y":0,"y2":1},{"v":6,"x":1,"y":0,"y2":1},{"v":7,"x":0.66,"y":0,"y2":1},{"v":7,"x":1,"y":0,"y2":1},
{"v":8,"x":0.69,"y":0,"y2":0.72},{"v":8,"x":0.74,"y":0,"y2":0.74},{"v":8,"x":0.745,"y":0,"y2":0.83},{"v":8,"x":0.75,"y":0,"y2":0.75},{"v":8,"x":0.78,"y":0,"y2":0.7},{"v":8,"x":0.85,"y":0,"y2":0.7},{"v":8,"x":0.9,"y":0,"y2":0.65},{"v":8,"x":1,"y":0,"y2":0.65}],
"c42":[{"v":0,"x":0,"y":0,"y2":1},{"v":0,"x":1,"y":0,"y2":1},{"v":1,"x":0,"y":0,"y2":0.74},{"v":1,"x":0.24,"y":0,"y2":0.74},{"v":1,"x":0.245,"y":0,"y2":1},{"v":1,"x":1,"y":0,"y2":1},{"v":2,"x":0,"y":0,"y2":0.68},{"v":2,"x":0.24,"y":0,"y2":0.68},{"v":2,"x":0.3,"y":0,"y2":0.72},{"v":2,"x":0.38,"y":0,"y2":0.74},{"v":2,"x":0.385,"y":0,"y2":1},{"v":2,"x":1,"y":0,"y2":1},
{"v":3,"x":0,"y":0,"y2":0.6},{"v":3,"x":0.22,"y":0,"y2":0.62},{"v":3,"x":0.3,"y":0,"y2":0.65},{"v":3,"x":0.58,"y":0,"y2":0.74},{"v":3,"x":0.585,"y":0,"y2":1},{"v":3,"x":1,"y":0,"y2":1},
{"v":4,"x":0,"y":0,"y2":0.55},{"v":4,"x":0.25,"y":0,"y2":0.55},{"v":4,"x":0.4,"y":0,"y2":0.62},{"v":4,"x":0.6,"y":0,"y2":0.72},{"v":4,"x":0.8,"y":0,"y2":0.78},{"v":4,"x":1,"y":0,"y2":0.79},
{"v":5,"x":0,"y":0,"y2":0.25},{"v":5,"x":0.2,"y":0,"y2":0.3},{"v":5,"x":0.22,"y":0,"y2":0.46},{"v":5,"x":0.3,"y":0,"y2":0.55},{"v":5,"x":0.5,"y":0,"y2":0.62},{"v":5,"x":0.8,"y":0,"y2":0.7},{"v":5,"x":1,"y":0,"y2":0.74},
{"v":6,"x":0,"y":0,"y2":0.2},{"v":6,"x":0.25,"y":0,"y2":0.2},{"v":6,"x":0.26,"y":0,"y2":0.3},{"v":6,"x":0.36,"y":0,"y2":0.45},{"v":6,"x":0.4,"y":0,"y2":0.55},{"v":6,"x":0.6,"y":0,"y2":0.6},{"v":6,"x":0.8,"y":0,"y2":0.66},{"v":6,"x":1,"y":0,"y2":0.68},
{"v":7,"x":0.2,"y":0,"y2":0},{"v":7,"x":0.24,"y":0,"y2":0.1},{"v":7,"x":0.3,"y":0,"y2":0.2},{"v":7,"x":0.38,"y":0,"y2":0.3},{"v":7,"x":0.4,"y":0,"y2":0.4},{"v":7,"x":0.5,"y":0,"y2":0.5},{"v":7,"x":0.6,"y":0,"y2":0.46},{"v":7,"x":0.7,"y":0,"y2":0.52},{"v":7,"x":0.9,"y":0,"y2":0.57},{"v":7,"x":1,"y":0,"y2":0.58},
{"v":8,"x":0.38,"y":0,"y2":0},{"v":8,"x":0.4,"y":0,"y2":0.08},{"v":8,"x":0.42,"y":0,"y2":0.2},{"v":8,"x":0.46,"y":0,"y2":0.3},{"v":8,"x":0.5,"y":0,"y2":0.36},{"v":8,"x":0.6,"y":0,"y2":0.42},{"v":8,"x":0.76,"y":0,"y2":0.5},{"v":8,"x":0.78,"y":0,"y2":0.52},{"v":8,"x":0.8,"y":0,"y2":0.48},{"v":8,"x":1,"y":0,"y2":0.5},
{"v":9,"x":0.68,"y":0,"y2":0},{"v":9,"x":0.7,"y":0,"y2":0.18},{"v":9,"x":0.76,"y":0,"y2":0.2},{"v":9,"x":0.85,"y":0,"y2":0.22},{"v":9,"x":0.9,"y":0,"y2":0.3},{"v":9,"x":1,"y":0,"y2":0.33}],
"c43":[{"v":0,"x":0,"y":0,"y2":1},{"v":0,"x":1,"y":0,"y2":1},{"v":1,"x":0,"y":0,"y2":0.75},{"v":1,"x":0.11,"y":0,"y2":0.75},{"v":1,"x":0.115,"y":0,"y2":1},{"v":1,"x":1,"y":0,"y2":1},
{"v":2,"x":0,"y":0,"y2":0.56},{"v":2,"x":0.06,"y":0,"y2":0.56},{"v":2,"x":0.1,"y":0,"y2":0.68},{"v":2,"x":0.13,"y":0,"y2":0.78},{"v":2,"x":0.14,"y":0,"y2":1},{"v":2,"x":0.9,"y":0,"y2":1},{"v":2,"x":0.91,"y":0,"y2":0.8},{"v":2,"x":0.96,"y":0,"y2":0.73},{"v":2,"x":1,"y":0,"y2":0.72},
{"v":3,"x":0.15,"y":0,"y2":0.3},{"v":3,"x":0.2,"y":0,"y2":0.6},{"v":3,"x":0.22,"y":0,"y2":1},{"v":3,"x":0.86,"y":0,"y2":1},{"v":3,"x":0.87,"y":0,"y2":0.7},{"v":3,"x":0.92,"y":0,"y2":0.5},{"v":3,"x":1,"y":0,"y2":0.4},
{"v":4,"x":0.2,"y":0,"y2":0.1},{"v":4,"x":0.26,"y":0,"y2":0.8},{"v":4,"x":0.27,"y":0,"y2":1},{"v":4,"x":0.8,"y":0,"y2":1},{"v":4,"x":0.82,"y":0,"y2":0.5},{"v":4,"x":0.9,"y":0,"y2":0},
{"v":5,"x":0.28,"y":0,"y2":0.1},{"v":5,"x":0.31,"y":0,"y2":0.6},{"v":5,"x":0.32,"y":0,"y2":1},{"v":5,"x":0.77,"y":0,"y2":1},{"v":5,"x":0.79,"y":0,"y2":0.3},{"v":5,"x":0.82,"y":0,"y2":0},
{"v":6,"x":0.32,"y":0,"y2":0.1},{"v":6,"x":0.345,"y":0,"y2":0.6},{"v":6,"x":0.35,"y":0,"y2":1},{"v":6,"x":0.75,"y":0,"y2":1},{"v":6,"x":0.77,"y":0,"y2":0.3},{"v":6,"x":0.79,"y":0,"y2":0},
{"v":7,"x":0.36,"y":0,"y2":0.2},{"v":7,"x":0.37,"y":0,"y2":0.6},{"v":7,"x":0.39,"y":0,"y2":1},{"v":7,"x":0.73,"y":0,"y2":1},{"v":7,"x":0.76,"y":0,"y2":0},
{"v":8,"x":0.37,"y":0,"y2":0.2},{"v":8,"x":0.41,"y":0,"y2":0.66},{"v":8,"x":0.415,"y":0,"y2":1},{"v":8,"x":0.72,"y":0,"y2":1},{"v":8,"x":0.74,"y":0,"y2":0},
{"v":9,"x":0.42,"y":0,"y2":0.38},{"v":9,"x":0.5,"y":0,"y2":0.45},{"v":9,"x":0.51,"y":0,"y2":0.65},{"v":9,"x":0.54,"y":0,"y2":0.62},{"v":9,"x":0.55,"y":0,"y2":0.5},{"v":9,"x":0.58,"y":0,"y2":0.5},{"v":9,"x":0.6,"y":0,"y2":0.55},{"v":9,"x":0.62,"y":0,"y2":0.45},{"v":9,"x":0.66,"y":0,"y2":0.55},{"v":9,"x":0.68,"y":0,"y2":0.45},{"v":9,"x":0.72,"y":0,"y2":0}],
"c50":[{"v":0,"x":0,"y":0,"y2":1},{"v":0,"x":1,"y":0,"y2":1},{"v":1,"x":0,"y":0,"y2":1},{"v":1,"x":0.74,"y":0,"y2":1},{"v":1,"x":0.745,"y":0,"y2":0.41},{"v":1,"x":1,"y":0,"y2":0.41},
{"v":2,"x":0,"y":0,"y2":0.27},{"v":2,"x":0.13,"y":0,"y2":0.39},{"v":2,"x":0.135,"y":0,"y2":1},{"v":2,"x":0.65,"y":0,"y2":1},{"v":2,"x":0.66,"y":0,"y2":0.5},{"v":2,"x":0.7,"y":0,"y2":0.4},{"v":2,"x":0.74,"y":0,"y2":0.28},{"v":2,"x":1,"y":0,"y2":0.28},
{"v":3,"x":0,"y":0,"y2":0.1},{"v":3,"x":0.16,"y":0,"y2":0.14},{"v":3,"x":0.2,"y":0,"y2":0.39},{"v":3,"x":0.215,"y":0,"y2":1},{"v":3,"x":0.55,"y":0,"y2":1},{"v":3,"x":0.56,"y":0,"y2":0.56},{"v":3,"x":0.62,"y":0,"y2":0.3},{"v":3,"x":0.67,"y":0,"y2":0.18},{"v":3,"x":0.7,"y":0,"y2":0.12},{"v":3,"x":1,"y":0,"y2":0.12},
{"v":4,"x":0.215,"y":0,"y2":0.1},{"v":4,"x":0.26,"y":0,"y2":0.16},{"v":4,"x":0.27,"y":0,"y2":0.3},{"v":4,"x":0.275,"y":0,"y2":1},{"v":4,"x":0.54,"y":0,"y2":1},{"v":4,"x":0.55,"y":0,"y2":0.6},{"v":4,"x":0.6,"y":0,"y2":0.25},{"v":4,"x":0.65,"y":0,"y2":0.1},{"v":4,"x":0.68,"y":0,"y2":0},
{"v":5,"x":0.2,"y":0,"y2":0.12},{"v":5,"x":0.24,"y":0,"y2":0.2},{"v":5,"x":0.3,"y":0,"y2":0.3},{"v":5,"x":0.36,"y":0,"y2":0.36},{"v":5,"x":0.42,"y":0,"y2":0.47},{"v":5,"x":0.46,"y":0,"y2":0.36},{"v":5,"x":0.52,"y":0,"y2":0.33},{"v":5,"x":0.58,"y":0,"y2":0.2},{"v":5,"x":0.65,"y":0,"y2":0.08},{"v":5,"x":0.68,"y":0,"y2":0},
{"v":6,"x":0.24,"y":0,"y2":0.1},{"v":6,"x":0.28,"y":0,"y2":0.22},{"v":6,"x":0.36,"y":0,"y2":0.3},{"v":6,"x":0.44,"y":0,"y2":0.31},{"v":6,"x":0.52,"y":0,"y2":0.24},{"v":6,"x":0.58,"y":0,"y2":0.14},{"v":6,"x":0.64,"y":0,"y2":0.03},{"v":6,"x":0.66,"y":0,"y2":0},
{"v":7,"x":0.26,"y":0,"y2":0.1},{"v":7,"x":0.3,"y":0,"y2":0.18},{"v":7,"x":0.36,"y":0,"y2":0.24},{"v":7,"x":0.44,"y":0,"y2":0.26},{"v":7,"x":0.52,"y":0,"y2":0.2},{"v":7,"x":0.58,"y":0,"y2":0.1},{"v":7,"x":0.62,"y":0,"y2":0},
{"v":8,"x":0.28,"y":0,"y2":0.08},{"v":8,"x":0.34,"y":0,"y2":0.16},{"v":8,"x":0.44,"y":0,"y2":0.18},{"v":8,"x":0.52,"y":0,"y2":0.12},{"v":8,"x":0.56,"y":0,"y2":0.06},{"v":8,"x":0.58,"y":0,"y2":0},
{"v":9,"x":0.34,"y":0,"y2":0.03},{"v":9,"x":0.38,"y":0,"y2":0.05},{"v":9,"x":0.46,"y":0,"y2":0.05},{"v":9,"x":0.5,"y":0,"y2":0.02},{"v":9,"x":0.52,"y":0,"y2":0}],
"c51":[{"v":0,"x":0,"y":0,"y2":1},{"v":0,"x":1,"y":0,"y2":1},{"v":1,"x":0,"y":0,"y2":0.36},{"v":1,"x":0.2,"y":0,"y2":0.37},{"v":1,"x":0.3,"y":0,"y2":0.39},{"v":1,"x":0.38,"y":0,"y2":0.44},{"v":1,"x":0.42,"y":0,"y2":0.55},{"v":1,"x":0.45,"y":0,"y2":0.6},{"v":1,"x":0.455,"y":0,"y2":1},{"v":1,"x":1,"y":0,"y2":1},
{"v":2,"x":0,"y":0,"y2":0.3},{"v":2,"x":0.2,"y":0,"y2":0.31},{"v":2,"x":0.3,"y":0,"y2":0.33},{"v":2,"x":0.42,"y":0,"y2":0.38},{"v":2,"x":0.5,"y":0,"y2":0.42},{"v":2,"x":0.6,"y":0,"y2":0.6},{"v":2,"x":0.615,"y":0,"y2":1},{"v":2,"x":1,"y":0,"y2":1},
{"v":3,"x":0.27,"y":0,"y2":0},{"v":3,"x":0.28,"y":0,"y2":0.13},{"v":3,"x":0.4,"y":0,"y2":0.17},{"v":3,"x":0.44,"y":0,"y2":0.2},{"v":3,"x":0.5,"y":0,"y2":0.22},{"v":3,"x":0.55,"y":0,"y2":0.3},{"v":3,"x":0.6,"y":0,"y2":0.38},{"v":3,"x":0.65,"y":0,"y2":0.42},{"v":3,"x":0.66,"y":0,"y2":1},{"v":3,"x":1,"y":0,"y2":1},
{"v":4,"x":0.44,"y":0,"y2":0},{"v":4,"x":0.5,"y":0,"y2":0.12},{"v":4,"x":0.58,"y":0,"y2":0.18},{"v":4,"x":0.62,"y":0,"y2":0.25},{"v":4,"x":0.66,"y":0,"y2":0.36},{"v":4,"x":1,"y":0,"y2":0.36},
{"v":5,"x":0.58,"y":0,"y2":0},{"v":5,"x":0.62,"y":0,"y2":0.12},{"v":5,"x":0.66,"y":0,"y2":0.24},{"v":5,"x":0.72,"y":0,"y2":0.3},{"v":5,"x":1,"y":0,"y2":0.3},
{"v":6,"x":0.64,"y":0,"y2":0},{"v":6,"x":0.655,"y":0,"y2":0.14},{"v":6,"x":0.7,"y":0,"y2":0.24},{"v":6,"x":1,"y":0,"y2":0.24},
{"v":7,"x":0.66,"y":0,"y2":0},{"v":7,"x":0.67,"y":0,"y2":0.12},{"v":7,"x":0.72,"y":0,"y2":0.2},{"v":7,"x":1,"y":0,"y2":0.18},
{"v":8,"x":0.67,"y":0,"y2":0},{"v":8,"x":0.68,"y":0,"y2":0.06},{"v":8,"x":0.72,"y":0,"y2":0.1},{"v":8,"x":0.8,"y":0,"y2":0.14},{"v":8,"x":1,"y":0,"y2":0.12},
{"v":9,"x":0.69,"y":0,"y2":0},{"v":9,"x":0.72,"y":0,"y2":0.03},{"v":9,"x":0.85,"y":0,"y2":0.02},{"v":9,"x":0.87,"y":0,"y2":0}],
"c52":[{"v":0,"x":0,"y":0,"y2":1},{"v":0,"x":1,"y":0,"y2":1},{"v":1,"x":0,"y":0,"y2":0.41},{"v":1,"x":0.2,"y":0,"y2":0.42},{"v":1,"x":0.36,"y":0,"y2":0.47},{"v":1,"x":0.6,"y":0,"y2":0.5},{"v":1,"x":0.8,"y":0,"y2":0.53},{"v":1,"x":1,"y":0,"y2":0.54},
{"v":2,"x":0,"y":0,"y2":0.373},{"v":2,"x":1,"y":0,"y2":0.373},{"v":3,"x":0,"y":0,"y2":0.333},{"v":3,"x":1,"y":0,"y2":0.333},{"v":4,"x":0,"y":0,"y2":0.273},{"v":4,"x":1,"y":0,"y2":0.273},{"v":5,"x":0,"y":0,"y2":0.233},{"v":5,"x":1,"y":0,"y2":0.233},{"v":6,"x":0,"y":0,"y2":0.193},{"v":6,"x":1,"y":0,"y2":0.193},{"v":7,"x":0,"y":0,"y2":0.133},{"v":7,"x":1,"y":0,"y2":0.133},{"v":8,"x":0,"y":0,"y2":0.082},{"v":8,"x":1,"y":0,"y2":0.082},
{"v":9,"x":0.7,"y":0,"y2":0},{"v":9,"x":0.75,"y":0,"y2":0.03},{"v":9,"x":1,"y":0,"y2":0.04}],
"c53":[{"v":0,"x":0,"y":0,"y2":1},{"v":0,"x":1,"y":0,"y2":1},{"v":1,"x":0,"y":0,"y2":0.43},{"v":1,"x":0.155,"y":0,"y2":0.43},{"v":1,"x":0.16,"y":0,"y2":1},{"v":1,"x":0.885,"y":0,"y2":1},{"v":1,"x":0.89,"y":0,"y2":0.55},{"v":1,"x":1,"y":0,"y2":0.55},
{"v":2,"x":0,"y":0,"y2":0.33},{"v":2,"x":0.1,"y":0,"y2":0.36},{"v":2,"x":0.2,"y":0,"y2":0.43},{"v":2,"x":0.27,"y":0,"y2":0.6},{"v":2,"x":0.28,"y":0,"y2":1},{"v":2,"x":0.8,"y":0,"y2":1},{"v":2,"x":0.81,"y":0,"y2":0.55},{"v":2,"x":0.88,"y":0,"y2":0.38},{"v":2,"x":1,"y":0,"y2":0.33},
{"v":3,"x":0,"y":0,"y2":0.26},{"v":3,"x":0.1,"y":0,"y2":0.26},{"v":3,"x":0.2,"y":0,"y2":0.3},{"v":3,"x":0.3,"y":0,"y2":0.36},{"v":3,"x":0.4,"y":0,"y2":0.42},{"v":3,"x":0.43,"y":0,"y2":0.6},{"v":3,"x":0.44,"y":0,"y2":1},{"v":3,"x":0.72,"y":0,"y2":1},{"v":3,"x":0.725,"y":0,"y2":0.45},{"v":3,"x":0.8,"y":0,"y2":0.33},{"v":3,"x":0.88,"y":0,"y2":0.2},{"v":3,"x":1,"y":0,"y2":0.1},
{"v":4,"x":0,"y":0,"y2":0.1},{"v":4,"x":0.1,"y":0,"y2":0.12},{"v":4,"x":0.2,"y":0,"y2":0.2},{"v":4,"x":0.3,"y":0,"y2":0.3},{"v":4,"x":0.4,"y":0,"y2":0.35},{"v":4,"x":0.46,"y":0,"y2":0.44},{"v":4,"x":0.48,"y":0,"y2":0.6},{"v":4,"x":0.49,"y":0,"y2":0.8},{"v":4,"x":0.51,"y":0,"y2":0.8},{"v":4,"x":0.52,"y":0,"y2":0.6},{"v":4,"x":0.58,"y":0,"y2":0.4},{"v":4,"x":0.65,"y":0,"y2":0.37},{"v":4,"x":0.72,"y":0,"y2":0.3},{"v":4,"x":0.8,"y":0,"y2":0.15},{"v":4,"x":0.88,"y":0,"y2":0.08},{"v":4,"x":1,"y":0,"y2":0.04},
{"v":5,"x":0.1,"y":0,"y2":0.04},{"v":5,"x":0.2,"y":0,"y2":0.14},{"v":5,"x":0.3,"y":0,"y2":0.24},{"v":5,"x":0.4,"y":0,"y2":0.3},{"v":5,"x":0.5,"y":0,"y2":0.32},{"v":5,"x":0.62,"y":0,"y2":0.3},{"v":5,"x":0.7,"y":0,"y2":0.22},{"v":5,"x":0.8,"y":0,"y2":0.1},{"v":5,"x":0.88,"y":0,"y2":0.02},
{"v":6,"x":0.22,"y":0,"y2":0.03},{"v":6,"x":0.3,"y":0,"y2":0.16},{"v":6,"x":0.4,"y":0,"y2":0.25},{"v":6,"x":0.5,"y":0,"y2":0.27},{"v":6,"x":0.62,"y":0,"y2":0.25},{"v":6,"x":0.7,"y":0,"y2":0.17},{"v":6,"x":0.78,"y":0,"y2":0.06},{"v":6,"x":0.82,"y":0,"y2":0},
{"v":7,"x":0.3,"y":0,"y2":0.06},{"v":7,"x":0.38,"y":0,"y2":0.18},{"v":7,"x":0.46,"y":0,"y2":0.22},{"v":7,"x":0.6,"y":0,"y2":0.2},{"v":7,"x":0.68,"y":0,"y2":0.13},{"v":7,"x":0.76,"y":0,"y2":0.02},
{"v":8,"x":0.36,"y":0,"y2":0.03},{"v":8,"x":0.42,"y":0,"y2":0.12},{"v":8,"x":0.5,"y":0,"y2":0.16},{"v":8,"x":0.6,"y":0,"y2":0.14},{"v":8,"x":0.66,"y":0,"y2":0.08},{"v":8,"x":0.72,"y":0,"y2":0},
{"v":9,"x":0.42,"y":0,"y2":0.02},{"v":9,"x":0.5,"y":0,"y2":0.05},{"v":9,"x":0.62,"y":0,"y2":0.05},{"v":9,"x":0.66,"y":0,"y2":0}],
"c54":[{"v":0,"x":0,"y":0,"y2":1},{"v":0,"x":1,"y":0,"y2":1},{"v":1,"x":0,"y":0,"y2":1},{"v":1,"x":0.74,"y":0,"y2":1},{"v":1,"x":0.745,"y":0,"y2":0.56},{"v":1,"x":1,"y":0,"y2":0.56},
{"v":2,"x":0,"y":0,"y2":1},{"v":2,"x":0.24,"y":0,"y2":1},{"v":2,"x":0.245,"y":0,"y2":0.56},{"v":2,"x":0.54,"y":0,"y2":0.55},{"v":2,"x":0.56,"y":0,"y2":0.5},{"v":2,"x":0.62,"y":0,"y2":0.46},{"v":2,"x":0.72,"y":0,"y2":0.42},{"v":2,"x":0.76,"y":0,"y2":0.38},{"v":2,"x":1,"y":0,"y2":0.38},
{"v":3,"x":0,"y":0,"y2":0.41},{"v":3,"x":0.2,"y":0,"y2":0.4},{"v":3,"x":0.4,"y":0,"y2":0.4},{"v":3,"x":0.6,"y":0,"y2":0.36},{"v":3,"x":0.7,"y":0,"y2":0.33},{"v":3,"x":0.76,"y":0,"y2":0.3},{"v":3,"x":1,"y":0,"y2":0.3},
{"v":4,"x":0,"y":0,"y2":0.33},{"v":4,"x":0.3,"y":0,"y2":0.33},{"v":4,"x":0.5,"y":0,"y2":0.3},{"v":4,"x":0.7,"y":0,"y2":0.26},{"v":4,"x":0.78,"y":0,"y2":0.24},{"v":4,"x":1,"y":0,"y2":0.22},
{"v":5,"x":0,"y":0,"y2":0.28},{"v":5,"x":0.4,"y":0,"y2":0.24},{"v":5,"x":1,"y":0,"y2":0.19},{"v":6,"x":0,"y":0,"y2":0.2},{"v":6,"x":0.36,"y":0,"y2":0.19},{"v":6,"x":1,"y":0,"y2":0.14},{"v":7,"x":0,"y":0,"y2":0.13},{"v":7,"x":0.2,"y":0,"y2":0.13},{"v":7,"x":0.4,"y":0,"y2":0.1},{"v":7,"x":1,"y":0,"y2":0.08},{"v":8,"x":0,"y":0,"y2":0.1},{"v":8,"x":0.2,"y":0,"y2":0.08},{"v":8,"x":0.5,"y":0,"y2":0.08},{"v":8,"x":1,"y":0,"y2":0.07},{"v":9,"x":0,"y":0,"y2":0.02},{"v":9,"x":0.24,"y":0,"y2":0.02},{"v":9,"x":0.25,"y":0,"y2":0}]
},
"concat":[
{"view":{"strokeWidth":1.1},"resolve":{"axis":{"y":"independent"}},"layer":[{"data":{"name":"d0"},"mark":"line","encoding":{"x":{"field":"x","type":"quantitative","scale":{"domain":[-0.05,1.05]},"axis":{"orient":"top","values":[0,0.2,0.4,0.6,0.8,1],"tickCount":6,"format":".1f","title":"X₀"}},"y":{"field":"y","type":"quantitative","scale":{"domain":[-0.924,-0.352]},"axis":{"orient":"right","values":[-0.8,-0.6,-0.4],"format":".1f","title":"Partial dependence","titleFontStyle":"normal","titleAngle":-90,"titleBaseline":"top","titlePadding":4}}}},{"data":{"name":"d0"},"mark":{"type":"line","opacity":0},"encoding":{"x":{"field":"x","type":"quantitative","scale":{"domain":[-0.05,1.05]}},"y":{"field":"y","type":"quantitative","scale":{"domain":[-0.924,-0.352]},"axis":{"orient":"left","values":[-0.8,-0.6,-0.4],"labels":false,"title":null}}}},{"data":{"name":"best"},"mark":"rule","encoding":{"x":{"field":"x0","type":"quantitative","scale":{"domain":[-0.05,1.05]}}}}]},
{"width":166,"height":166,"data":{"values":[]},"mark":"circle","view":{"stroke":null}},{"width":166,"height":166,"data":{"values":[]},"mark":"circle","view":{"stroke":null}},{"width":166,"height":166,"data":{"values":[]},"mark":"circle","view":{"stroke":null}},{"width":166,"height":166,"data":{"values":[]},"mark":"circle","view":{"stroke":null}},{"width":166,"height":166,"data":{"values":[]},"mark":"circle","view":{"stroke":null}},

{"layer":[{"data":{"name":"c10"},"mark":"area","encoding":{"x":{"field":"x","type":"quantitative","scale":{"domain":[0,1]},"axis":{"values":[0.2,0.4,0.6,0.8],"labels":false,"title":null}},"y":{"field":"y","type":"quantitative","scale":{"domain":[0,1]},"axis":{"values":[0.2,0.4,0.6,0.8],"format":".1f","title":"X₁"}},"y2":{"field":"y2"},"color":{"field":"v","type":"ordinal","scale":{"domain":[0,1,2,3,4,5,6,7,8,9]}}}},{"data":{"name":"pts"},"mark":{"type":"circle","clip":true},"encoding":{"x":{"field":"x0","type":"quantitative","scale":{"domain":[0,1]}},"y":{"field":"x1","type":"quantitative","scale":{"domain":[0,1]}}}},{"data":{"name":"best"},"mark":{"type":"circle","color":"red","size":38,"clip":true},"encoding":{"x":{"field":"x0","type":"quantitative","scale":{"domain":[0,1]}},"y":{"field":"x1","type":"quantitative","scale":{"domain":[0,1]}}}}]},
{"view":{"strokeWidth":1.1},"resolve":{"axis":{"y":"independent"}},"layer":[{"data":{"name":"d1"},"mark":"line","encoding":{"x":{"field":"x","type":"quantitative","scale":{"domain":[-0.05,1.05]},"axis":{"orient":"top","values":[0,0.2,0.4,0.6,0.8,1],"tickCount":6,"format":".1f","title":"X₁"}},"y":{"field":"y","type":"quantitative","scale":{"domain":[-0.924,-0.352]},"axis":{"orient":"right","values":[-0.8,-0.6,-0.4],"format":".1f","title":"Partial dependence","titleFontStyle":"normal","titleAngle":-90,"titleBaseline":"top","titlePadding":4}}}},{"data":{"name":"d1"},"mark":{"type":"line","opacity":0},"encoding":{"x":{"field":"x","type":"quantitative","scale":{"domain":[-0.05,1.05]}},"y":{"field":"y","type":"quantitative","scale":{"domain":[-0.924,-0.352]},"axis":{"orient":"left","values":[-0.8,-0.6,-0.4],"labels":false,"title":null}}}},{"data":{"name":"best"},"mark":"rule","encoding":{"x":{"field":"x1","type":"quantitative","scale":{"domain":[-0.05,1.05]}}}}]},
{"width":166,"height":166,"data":{"values":[]},"mark":"circle","view":{"stroke":null}},{"width":166,"height":166,"data":{"values":[]},"mark":"circle","view":{"stroke":null}},{"width":166,"height":166,"data":{"values":[]},"mark":"circle","view":{"stroke":null}},{"width":166,"height":166,"data":{"values":[]},"mark":"circle","view":{"stroke":null}},

{"layer":[{"data":{"name":"c20"},"mark":"area","encoding":{"x":{"field":"x","type":"quantitative","scale":{"domain":[0,1]},"axis":{"values":[0.2,0.4,0.6,0.8],"labels":false,"title":null}},"y":{"field":"y","type":"quantitative","scale":{"domain":[0,1]},"axis":{"values":[0.2,0.4,0.6,0.8],"format":".1f","title":"X₂"}},"y2":{"field":"y2"},"color":{"field":"v","type":"ordinal","scale":{"domain":[0,1,2,3,4,5,6,7,8,9]}}}},{"data":{"name":"pts"},"mark":{"type":"circle","clip":true},"encoding":{"x":{"field":"x0","type":"quantitative","scale":{"domain":[0,1]}},"y":{"field":"x2","type":"quantitative","scale":{"domain":[0,1]}}}},{"data":{"name":"best"},"mark":{"type":"circle","color":"red","size":38,"clip":true},"encoding":{"x":{"field":"x0","type":"quantitative","scale":{"domain":[0,1]}},"y":{"field":"x2","type":"quantitative","scale":{"domain":[0,1]}}}}]},
{"layer":[{"data":{"name":"c21"},"mark":"area","encoding":{"x":{"field":"x","type":"quantitative","scale":{"domain":[0,1]},"axis":{"values":[0.2,0.4,0.6,0.8],"labels":false,"title":null}},"y":{"field":"y","type":"quantitative","scale":{"domain":[0,1]},"axis":{"values":[0.2,0.4,0.6,0.8],"labels":false,"title":null}},"y2":{"field":"y2"},"color":{"field":"v","type":"ordinal","scale":{"domain":[0,1,2,3,4,5,6,7,8,9]}}}},{"data":{"name":"pts"},"mark":{"type":"circle","clip":true},"encoding":{"x":{"field":"x1","type":"quantitative","scale":{"domain":[0,1]}},"y":{"field":"x2","type":"quantitative","scale":{"domain":[0,1]}}}},{"data":{"name":"best"},"mark":{"type":"circle","color":"red","size":38,"clip":true},"encoding":{"x":{"field":"x1","type":"quantitative","scale":{"domain":[0,1]}},"y":{"field":"x2","type":"quantitative","scale":{"domain":[0,1]}}}}]},
{"view":{"strokeWidth":1.1},"resolve":{"axis":{"y":"independent"}},"layer":[{"data":{"name":"d2"},"mark":"line","encoding":{"x":{"field":"x","type":"quantitative","scale":{"domain":[-0.05,1.05]},"axis":{"orient":"top","values":[0,0.2,0.4,0.6,0.8,1],"tickCount":6,"format":".1f","title":"X₂"}},"y":{"field":"y","type":"quantitative","scale":{"domain":[-0.924,-0.352]},"axis":{"orient":"right","values":[-0.8,-0.6,-0.4],"format":".1f","title":"Partial dependence","titleFontStyle":"normal","titleAngle":-90,"titleBaseline":"top","titlePadding":4}}}},{"data":{"name":"d2"},"mark":{"type":"line","opacity":0},"encoding":{"x":{"field":"x","type":"quantitative","scale":{"domain":[-0.05,1.05]}},"y":{"field":"y","type":"quantitative","scale":{"domain":[-0.924,-0.352]},"axis":{"orient":"left","values":[-0.8,-0.6,-0.4],"labels":false,"title":null}}}},{"data":{"name":"best"},"mark":"rule","encoding":{"x":{"field":"x2","type":"quantitative","scale":{"domain":[-0.05,1.05]}}}}]},
{"width":166,"height":166,"data":{"values":[]},"mark":"circle","view":{"stroke":null}},{"width":166,"height":166,"data":{"values":[]},"mark":"circle","view":{"stroke":null}},{"width":166,"height":166,"data":{"values":[]},"mark":"circle","view":{"stroke":null}},

{"layer":[{"data":{"name":"c30"},"mark":"area","encoding":{"x":{"field":"x","type":"quantitative","scale":{"domain":[0,1]},"axis":{"values":[0.2,0.4,0.6,0.8],"labels":false,"title":null}},"y":{"field":"y","type":"quantitative","scale":{"domain":[0,1]},"axis":{"values":[0.2,0.4,0.6,0.8],"format":".1f","title":"X₃"}},"y2":{"field":"y2"},"color":{"field":"v","type":"ordinal","scale":{"domain":[0,1,2,3,4,5,6,7,8,9]}}}},{"data":{"name":"pts"},"mark":{"type":"circle","clip":true},"encoding":{"x":{"field":"x0","type":"quantitative","scale":{"domain":[0,1]}},"y":{"field":"x3","type":"quantitative","scale":{"domain":[0,1]}}}},{"data":{"name":"best"},"mark":{"type":"circle","color":"red","size":38,"clip":true},"encoding":{"x":{"field":"x0","type":"quantitative","scale":{"domain":[0,1]}},"y":{"field":"x3","type":"quantitative","scale":{"domain":[0,1]}}}}]},
{"layer":[{"data":{"name":"c31"},"mark":"area","encoding":{"x":{"field":"x","type":"quantitative","scale":{"domain":[0,1]},"axis":{"values":[0.2,0.4,0.6,0.8],"labels":false,"title":null}},"y":{"field":"y","type":"quantitative","scale":{"domain":[0,1]},"axis":{"values":[0.2,0.4,0.6,0.8],"labels":false,"title":null}},"y2":{"field":"y2"},"color":{"field":"v","type":"ordinal","scale":{"domain":[0,1,2,3,4,5,6,7,8,9]}}}},{"data":{"name":"pts"},"mark":{"type":"circle","clip":true},"encoding":{"x":{"field":"x1","type":"quantitative","scale":{"domain":[0,1]}},"y":{"field":"x3","type":"quantitative","scale":{"domain":[0,1]}}}},{"data":{"name":"best"},"mark":{"type":"circle","color":"red","size":38,"clip":true},"encoding":{"x":{"field":"x1","type":"quantitative","scale":{"domain":[0,1]}},"y":{"field":"x3","type":"quantitative","scale":{"domain":[0,1]}}}}]},
{"layer":[{"data":{"name":"c32"},"mark":"area","encoding":{"x":{"field":"x","type":"quantitative","scale":{"domain":[0,1]},"axis":{"values":[0.2,0.4,0.6,0.8],"labels":false,"title":null}},"y":{"field":"y","type":"quantitative","scale":{"domain":[0,1]},"axis":{"values":[0.2,0.4,0.6,0.8],"labels":false,"title":null}},"y2":{"field":"y2"},"color":{"field":"v","type":"ordinal","scale":{"domain":[0,1,2,3,4,5,6,7,8,9]}}}},{"data":{"name":"pts"},"mark":{"type":"circle","clip":true},"encoding":{"x":{"field":"x2","type":"quantitative","scale":{"domain":[0,1]}},"y":{"field":"x3","type":"quantitative","scale":{"domain":[0,1]}}}},{"data":{"name":"best"},"mark":{"type":"circle","color":"red","size":38,"clip":true},"encoding":{"x":{"field":"x2","type":"quantitative","scale":{"domain":[0,1]}},"y":{"field":"x3","type":"quantitative","scale":{"domain":[0,1]}}}}]},
{"view":{"strokeWidth":1.1},"resolve":{"axis":{"y":"independent"}},"layer":[{"data":{"name":"d3"},"mark":"line","encoding":{"x":{"field":"x","type":"quantitative","scale":{"domain":[-0.05,1.05]},"axis":{"orient":"top","values":[0,0.2,0.4,0.6,0.8,1],"tickCount":6,"format":".1f","title":"X₃"}},"y":{"field":"y","type":"quantitative","scale":{"domain":[-0.924,-0.352]},"axis":{"orient":"right","values":[-0.8,-0.6,-0.4],"format":".1f","title":"Partial dependence","titleFontStyle":"normal","titleAngle":-90,"titleBaseline":"top","titlePadding":4}}}},{"data":{"name":"d3"},"mark":{"type":"line","opacity":0},"encoding":{"x":{"field":"x","type":"quantitative","scale":{"domain":[-0.05,1.05]}},"y":{"field":"y","type":"quantitative","scale":{"domain":[-0.924,-0.352]},"axis":{"orient":"left","values":[-0.8,-0.6,-0.4],"labels":false,"title":null}}}},{"data":{"name":"best"},"mark":"rule","encoding":{"x":{"field":"x3","type":"quantitative","scale":{"domain":[-0.05,1.05]}}}}]},
{"width":166,"height":166,"data":{"values":[]},"mark":"circle","view":{"stroke":null}},{"width":166,"height":166,"data":{"values":[]},"mark":"circle","view":{"stroke":null}},

{"layer":[{"data":{"name":"c40"},"mark":"area","encoding":{"x":{"field":"x","type":"quantitative","scale":{"domain":[0,1]},"axis":{"values":[0.2,0.4,0.6,0.8],"labels":false,"title":null}},"y":{"field":"y","type":"quantitative","scale":{"domain":[0,1]},"axis":{"values":[0.2,0.4,0.6,0.8],"format":".1f","title":"X₄"}},"y2":{"field":"y2"},"color":{"field":"v","type":"ordinal","scale":{"domain":[0,1,2,3,4,5,6,7,8,9]}}}},{"data":{"name":"pts"},"mark":{"type":"circle","clip":true},"encoding":{"x":{"field":"x0","type":"quantitative","scale":{"domain":[0,1]}},"y":{"field":"x4","type":"quantitative","scale":{"domain":[0,1]}}}},{"data":{"name":"best"},"mark":{"type":"circle","color":"red","size":38,"clip":true},"encoding":{"x":{"field":"x0","type":"quantitative","scale":{"domain":[0,1]}},"y":{"field":"x4","type":"quantitative","scale":{"domain":[0,1]}}}}]},
{"layer":[{"data":{"name":"c41"},"mark":"area","encoding":{"x":{"field":"x","type":"quantitative","scale":{"domain":[0,1]},"axis":{"values":[0.2,0.4,0.6,0.8],"labels":false,"title":null}},"y":{"field":"y","type":"quantitative","scale":{"domain":[0,1]},"axis":{"values":[0.2,0.4,0.6,0.8],"labels":false,"title":null}},"y2":{"field":"y2"},"color":{"field":"v","type":"ordinal","scale":{"domain":[0,1,2,3,4,5,6,7,8,9]}}}},{"data":{"name":"pts"},"mark":{"type":"circle","clip":true},"encoding":{"x":{"field":"x1","type":"quantitative","scale":{"domain":[0,1]}},"y":{"field":"x4","type":"quantitative","scale":{"domain":[0,1]}}}},{"data":{"name":"best"},"mark":{"type":"circle","color":"red","size":38,"clip":true},"encoding":{"x":{"field":"x1","type":"quantitative","scale":{"domain":[0,1]}},"y":{"field":"x4","type":"quantitative","scale":{"domain":[0,1]}}}}]},
{"layer":[{"data":{"name":"c42"},"mark":"area","encoding":{"x":{"field":"x","type":"quantitative","scale":{"domain":[0,1]},"axis":{"values":[0.2,0.4,0.6,0.8],"labels":false,"title":null}},"y":{"field":"y","type":"quantitative","scale":{"domain":[0,1]},"axis":{"values":[0.2,0.4,0.6,0.8],"labels":false,"title":null}},"y2":{"field":"y2"},"color":{"field":"v","type":"ordinal","scale":{"domain":[0,1,2,3,4,5,6,7,8,9]}}}},{"data":{"name":"pts"},"mark":{"type":"circle","clip":true},"encoding":{"x":{"field":"x2","type":"quantitative","scale":{"domain":[0,1]}},"y":{"field":"x4","type":"quantitative","scale":{"domain":[0,1]}}}},{"data":{"name":"best"},"mark":{"type":"circle","color":"red","size":38,"clip":true},"encoding":{"x":{"field":"x2","type":"quantitative","scale":{"domain":[0,1]}},"y":{"field":"x4","type":"quantitative","scale":{"domain":[0,1]}}}}]},
{"layer":[{"data":{"name":"c43"},"mark":"area","encoding":{"x":{"field":"x","type":"quantitative","scale":{"domain":[0,1]},"axis":{"values":[0.2,0.4,0.6,0.8],"labels":false,"title":null}},"y":{"field":"y","type":"quantitative","scale":{"domain":[0,1]},"axis":{"values":[0.2,0.4,0.6,0.8],"labels":false,"title":null}},"y2":{"field":"y2"},"color":{"field":"v","type":"ordinal","scale":{"domain":[0,1,2,3,4,5,6,7,8,9]}}}},{"data":{"name":"pts"},"mark":{"type":"circle","clip":true},"encoding":{"x":{"field":"x3","type":"quantitative","scale":{"domain":[0,1]}},"y":{"field":"x4","type":"quantitative","scale":{"domain":[0,1]}}}},{"data":{"name":"best"},"mark":{"type":"circle","color":"red","size":38,"clip":true},"encoding":{"x":{"field":"x3","type":"quantitative","scale":{"domain":[0,1]}},"y":{"field":"x4","type":"quantitative","scale":{"domain":[0,1]}}}}]},
{"view":{"strokeWidth":1.1},"resolve":{"axis":{"y":"independent"}},"layer":[{"data":{"name":"d4"},"mark":"line","encoding":{"x":{"field":"x","type":"quantitative","scale":{"domain":[-0.05,1.05]},"axis":{"orient":"top","values":[0,0.2,0.4,0.6,0.8,1],"tickCount":6,"format":".1f","title":"X₄"}},"y":{"field":"y","type":"quantitative","scale":{"domain":[-0.924,-0.352]},"axis":{"orient":"right","values":[-0.8,-0.6,-0.4],"format":".1f","title":"Partial dependence","titleFontStyle":"normal","titleAngle":-90,"titleBaseline":"top","titlePadding":4}}}},{"data":{"name":"d4"},"mark":{"type":"line","opacity":0},"encoding":{"x":{"field":"x","type":"quantitative","scale":{"domain":[-0.05,1.05]}},"y":{"field":"y","type":"quantitative","scale":{"domain":[-0.924,-0.352]},"axis":{"orient":"left","values":[-0.8,-0.6,-0.4],"labels":false,"title":null}}}},{"data":{"name":"best"},"mark":"rule","encoding":{"x":{"field":"x4","type":"quantitative","scale":{"domain":[-0.05,1.05]}}}}]},
{"width":166,"height":166,"data":{"values":[]},"mark":"circle","view":{"stroke":null}},

{"layer":[{"data":{"name":"c50"},"mark":"area","encoding":{"x":{"field":"x","type":"quantitative","scale":{"domain":[0,1]},"axis":{"values":[0.2,0.4,0.6,0.8],"format":".1f","labelAngle":-45,"labelAlign":"center","labelBaseline":"middle","labelPadding":12,"title":"X₀"}},"y":{"field":"y","type":"quantitative","scale":{"domain":[0,1]},"axis":{"values":[0.2,0.4,0.6,0.8],"format":".1f","title":"X₅"}},"y2":{"field":"y2"},"color":{"field":"v","type":"ordinal","scale":{"domain":[0,1,2,3,4,5,6,7,8,9]}}}},{"data":{"name":"pts"},"mark":{"type":"circle","clip":true},"encoding":{"x":{"field":"x0","type":"quantitative","scale":{"domain":[0,1]}},"y":{"field":"x5","type":"quantitative","scale":{"domain":[0,1]}}}},{"data":{"name":"best"},"mark":{"type":"circle","color":"red","size":38,"clip":true},"encoding":{"x":{"field":"x0","type":"quantitative","scale":{"domain":[0,1]}},"y":{"field":"x5","type":"quantitative","scale":{"domain":[0,1]}}}}]},
{"layer":[{"data":{"name":"c51"},"mark":"area","encoding":{"x":{"field":"x","type":"quantitative","scale":{"domain":[0,1]},"axis":{"values":[0.2,0.4,0.6,0.8],"format":".1f","labelAngle":-45,"labelAlign":"center","labelBaseline":"middle","labelPadding":12,"title":"X₁"}},"y":{"field":"y","type":"quantitative","scale":{"domain":[0,1]},"axis":{"values":[0.2,0.4,0.6,0.8],"labels":false,"title":null}},"y2":{"field":"y2"},"color":{"field":"v","type":"ordinal","scale":{"domain":[0,1,2,3,4,5,6,7,8,9]}}}},{"data":{"name":"pts"},"mark":{"type":"circle","clip":true},"encoding":{"x":{"field":"x1","type":"quantitative","scale":{"domain":[0,1]}},"y":{"field":"x5","type":"quantitative","scale":{"domain":[0,1]}}}},{"data":{"name":"best"},"mark":{"type":"circle","color":"red","size":38,"clip":true},"encoding":{"x":{"field":"x1","type":"quantitative","scale":{"domain":[0,1]}},"y":{"field":"x5","type":"quantitative","scale":{"domain":[0,1]}}}}]},
{"layer":[{"data":{"name":"c52"},"mark":"area","encoding":{"x":{"field":"x","type":"quantitative","scale":{"domain":[0,1]},"axis":{"values":[0.2,0.4,0.6,0.8],"format":".1f","labelAngle":-45,"labelAlign":"center","labelBaseline":"middle","labelPadding":12,"title":"X₂"}},"y":{"field":"y","type":"quantitative","scale":{"domain":[0,1]},"axis":{"values":[0.2,0.4,0.6,0.8],"labels":false,"title":null}},"y2":{"field":"y2"},"color":{"field":"v","type":"ordinal","scale":{"domain":[0,1,2,3,4,5,6,7,8,9]}}}},{"data":{"name":"pts"},"mark":{"type":"circle","clip":true},"encoding":{"x":{"field":"x2","type":"quantitative","scale":{"domain":[0,1]}},"y":{"field":"x5","type":"quantitative","scale":{"domain":[0,1]}}}},{"data":{"name":"best"},"mark":{"type":"circle","color":"red","size":38,"clip":true},"encoding":{"x":{"field":"x2","type":"quantitative","scale":{"domain":[0,1]}},"y":{"field":"x5","type":"quantitative","scale":{"domain":[0,1]}}}}]},
{"layer":[{"data":{"name":"c53"},"mark":"area","encoding":{"x":{"field":"x","type":"quantitative","scale":{"domain":[0,1]},"axis":{"values":[0.2,0.4,0.6,0.8],"format":".1f","labelAngle":-45,"labelAlign":"center","labelBaseline":"middle","labelPadding":12,"title":"X₃"}},"y":{"field":"y","type":"quantitative","scale":{"domain":[0,1]},"axis":{"values":[0.2,0.4,0.6,0.8],"labels":false,"title":null}},"y2":{"field":"y2"},"color":{"field":"v","type":"ordinal","scale":{"domain":[0,1,2,3,4,5,6,7,8,9]}}}},{"data":{"name":"pts"},"mark":{"type":"circle","clip":true},"encoding":{"x":{"field":"x3","type":"quantitative","scale":{"domain":[0,1]}},"y":{"field":"x5","type":"quantitative","scale":{"domain":[0,1]}}}},{"data":{"name":"best"},"mark":{"type":"circle","color":"red","size":38,"clip":true},"encoding":{"x":{"field":"x3","type":"quantitative","scale":{"domain":[0,1]}},"y":{"field":"x5","type":"quantitative","scale":{"domain":[0,1]}}}}]},
{"layer":[{"data":{"name":"c54"},"mark":"area","encoding":{"x":{"field":"x","type":"quantitative","scale":{"domain":[0,1]},"axis":{"values":[0.2,0.4,0.6,0.8],"format":".1f","labelAngle":-45,"labelAlign":"center","labelBaseline":"middle","labelPadding":12,"title":"X₄"}},"y":{"field":"y","type":"quantitative","scale":{"domain":[0,1]},"axis":{"values":[0.2,0.4,0.6,0.8],"labels":false,"title":null}},"y2":{"field":"y2"},"color":{"field":"v","type":"ordinal","scale":{"domain":[0,1,2,3,4,5,6,7,8,9]}}}},{"data":{"name":"pts"},"mark":{"type":"circle","clip":true},"encoding":{"x":{"field":"x4","type":"quantitative","scale":{"domain":[0,1]}},"y":{"field":"x5","type":"quantitative","scale":{"domain":[0,1]}}}},{"data":{"name":"best"},"mark":{"type":"circle","color":"red","size":38,"clip":true},"encoding":{"x":{"field":"x4","type":"quantitative","scale":{"domain":[0,1]}},"y":{"field":"x5","type":"quantitative","scale":{"domain":[0,1]}}}}]},
{"view":{"strokeWidth":1.1},"resolve":{"axis":{"y":"independent"}},"layer":[{"data":{"name":"d5"},"mark":"line","encoding":{"x":{"field":"x","type":"quantitative","scale":{"domain":[-0.05,1.05]},"axis":{"orient":"top","values":[0,0.2,0.4,0.6,0.8,1],"tickCount":6,"format":".1f","title":"X₅"}},"y":{"field":"y","type":"quantitative","scale":{"domain":[-0.924,-0.352]},"axis":{"orient":"right","values":[-0.8,-0.6,-0.4],"format":".1f","title":"Partial dependence","titleFontStyle":"normal","titleAngle":-90,"titleBaseline":"top","titlePadding":4}}}},{"data":{"name":"d5"},"mark":{"type":"line","opacity":0},"encoding":{"x":{"field":"x","type":"quantitative","scale":{"domain":[-0.05,1.05]}},"y":{"field":"y","type":"quantitative","scale":{"domain":[-0.924,-0.352]},"axis":{"orient":"left","values":[-0.8,-0.6,-0.4],"labels":false,"title":null}}}},{"data":{"name":"best"},"mark":"rule","encoding":{"x":{"field":"x5","type":"quantitative","scale":{"domain":[-0.05,1.05]}}}}]}
]}
